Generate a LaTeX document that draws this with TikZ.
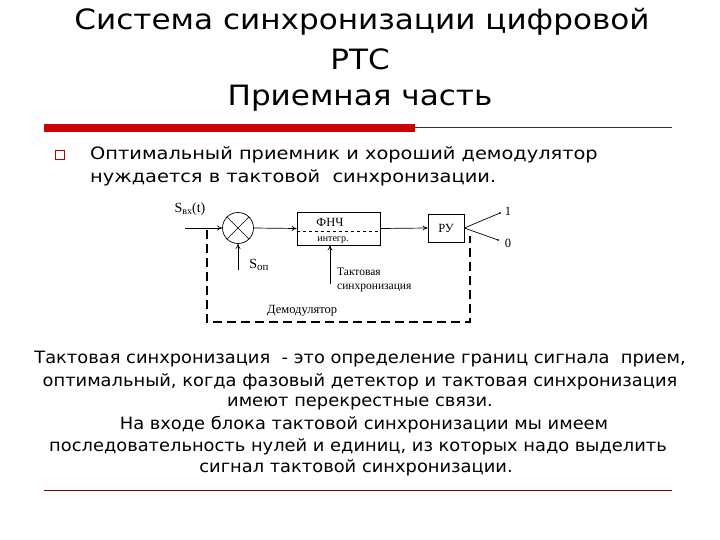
\documentclass[tikz,border=0pt]{standalone}
\usepackage{fontspec}
\setmainfont{DejaVu Sans}
\newfontfamily\ttlf[FakeStretch=1.11]{DejaVu Sans}
\newfontfamily\bodf[FakeStretch=1.14]{DejaVu Sans}
\newfontfamily\parf[FakeStretch=1.05]{DejaVu Sans}
\newfontfamily\serf{Liberation Serif}
\usetikzlibrary{arrows.meta}
\begin{document}
\begin{tikzpicture}[x=1pt,y=-1pt,
  ttl/.style={font=\ttlf\fontsize{28}{30}\selectfont,inner sep=0},
  body/.style={font=\bodf\fontsize{17}{19}\selectfont,inner sep=0},
  para/.style={font=\parf\fontsize{17}{19}\selectfont,inner sep=0},
  dg/.style={font=\serf\fontsize{12.5}{13}\selectfont,inner sep=0},
  blk/.style={draw,line width=0.7pt},
  arr/.style={-{To[length=5pt,width=5pt]},line width=0.7pt},
  dem/.style={line width=1.6pt,dash pattern=on 9pt off 5pt}]
\useasboundingbox (0,0) rectangle (720,540);
\fill[white] (0,0) rectangle (720,540);
\node[ttl] (t1) at (362,22) {Система синхронизации цифровой};
\node[ttl] (t2) at (360,59) {РТС};
\node[ttl] (t3) at (360,98) {Приемная часть};
\draw[line width=0.8pt,black!80] (48,127) -- (672,127);
\fill[red!80!black] (44,124) rectangle (415,132);
\draw[red!70!black,line width=0.6pt] (55,150) rectangle (64,159);
\node[body,anchor=west] (b1) at (90,155) {Оптимальный приемник и хороший демодулятор};
\node[body,anchor=west] (b2) at (90,178) {нуждается в тактовой\ \ синхронизации.};
% diagram
\fill[white] (163,193) rectangle (520,340);
\node[circle,blk,minimum size=31pt,inner sep=0] (mix) at (238,228) {};
\draw[line width=0.6pt] (mix.45) -- (mix.225) (mix.135) -- (mix.315);
\coordinate (in) at (185,228);
\draw[arr] (in) -- (mix.west);
\node[blk,minimum width=83pt,minimum height=33pt,inner sep=0] (fnch) at (338.5,228.5) {};
\draw[dashed,line width=0.6pt] (fnch.west |- 0,231) -- (fnch.east |- 0,231);
\node[dg] (l1) at (330,222) {ФНЧ};
\node[dg,font=\serf\fontsize{10}{11}\selectfont] (l2) at (333,240) {интегр.};
\node[blk,minimum width=36pt,minimum height=28pt,inner sep=0,dg] (ru) at (446,228) {РУ};
\draw[arr] (mix.east) -- (fnch.west);
\draw[arr] (fnch.east) -- (ru.west);
\coordinate (sw1) at (500,213);
\coordinate (sw0) at (498,240);
\draw[line width=0.7pt] (ru.east) -- (sw1) (ru.east) -- (sw0);
\fill (sw1) circle (1pt) (sw0) circle (1pt);
\node[dg] (n1) at (508,211) {1};
\node[dg] (n0) at (508,243) {0};
\coordinate (sop) at (238,270);
\draw[arr] (sop) -- (mix.south);
\node[dg,font=\serf\fontsize{14}{15}\selectfont] (sopl) at (259,265) {S\raisebox{-2pt}{\fontsize{11}{12}\selectfont оп}};
\node[dg,font=\serf\fontsize{14}{15}\selectfont] (sin) at (190,209) {S\raisebox{-2pt}{\fontsize{10}{11}\selectfont вх}(t)};
\coordinate (tk) at (330,284);
\draw[arr] (tk) -- (tk |- fnch.south);
\node[dg,anchor=west,font=\serf\fontsize{11.5}{12}\selectfont] (tk1) at (337,272) {Тактовая};
\node[dg,anchor=west,font=\serf\fontsize{11.5}{12}\selectfont] (tk2) at (337,288) {синхронизация};
\node[dg,anchor=west] (dm) at (267,311) {Демодулятор};
\draw[dem] (207,230) -- (207,322) -- (470,322) -- (470,236);
% text
\node[para] (p1) at (360,359) {Тактовая синхронизация\ \ - это определение границ сигнала\ \ прием,};
\node[para] (p2) at (360,382) {оптимальный, когда фазовый детектор и тактовая синхронизация};
\node[para] (p3) at (360,404) {имеют перекрестные связи.};
\node[para] (p4) at (364,425) {На входе блока тактовой синхронизации мы имеем};
\node[para] (p5) at (358,447) {последовательность нулей и единиц, из которых надо выделить};
\node[para] (p6) at (356,468) {сигнал тактовой синхронизации.};
\draw[red!50!black,line width=0.9pt] (44,490) -- (672,490);
\end{tikzpicture}
\end{document}
